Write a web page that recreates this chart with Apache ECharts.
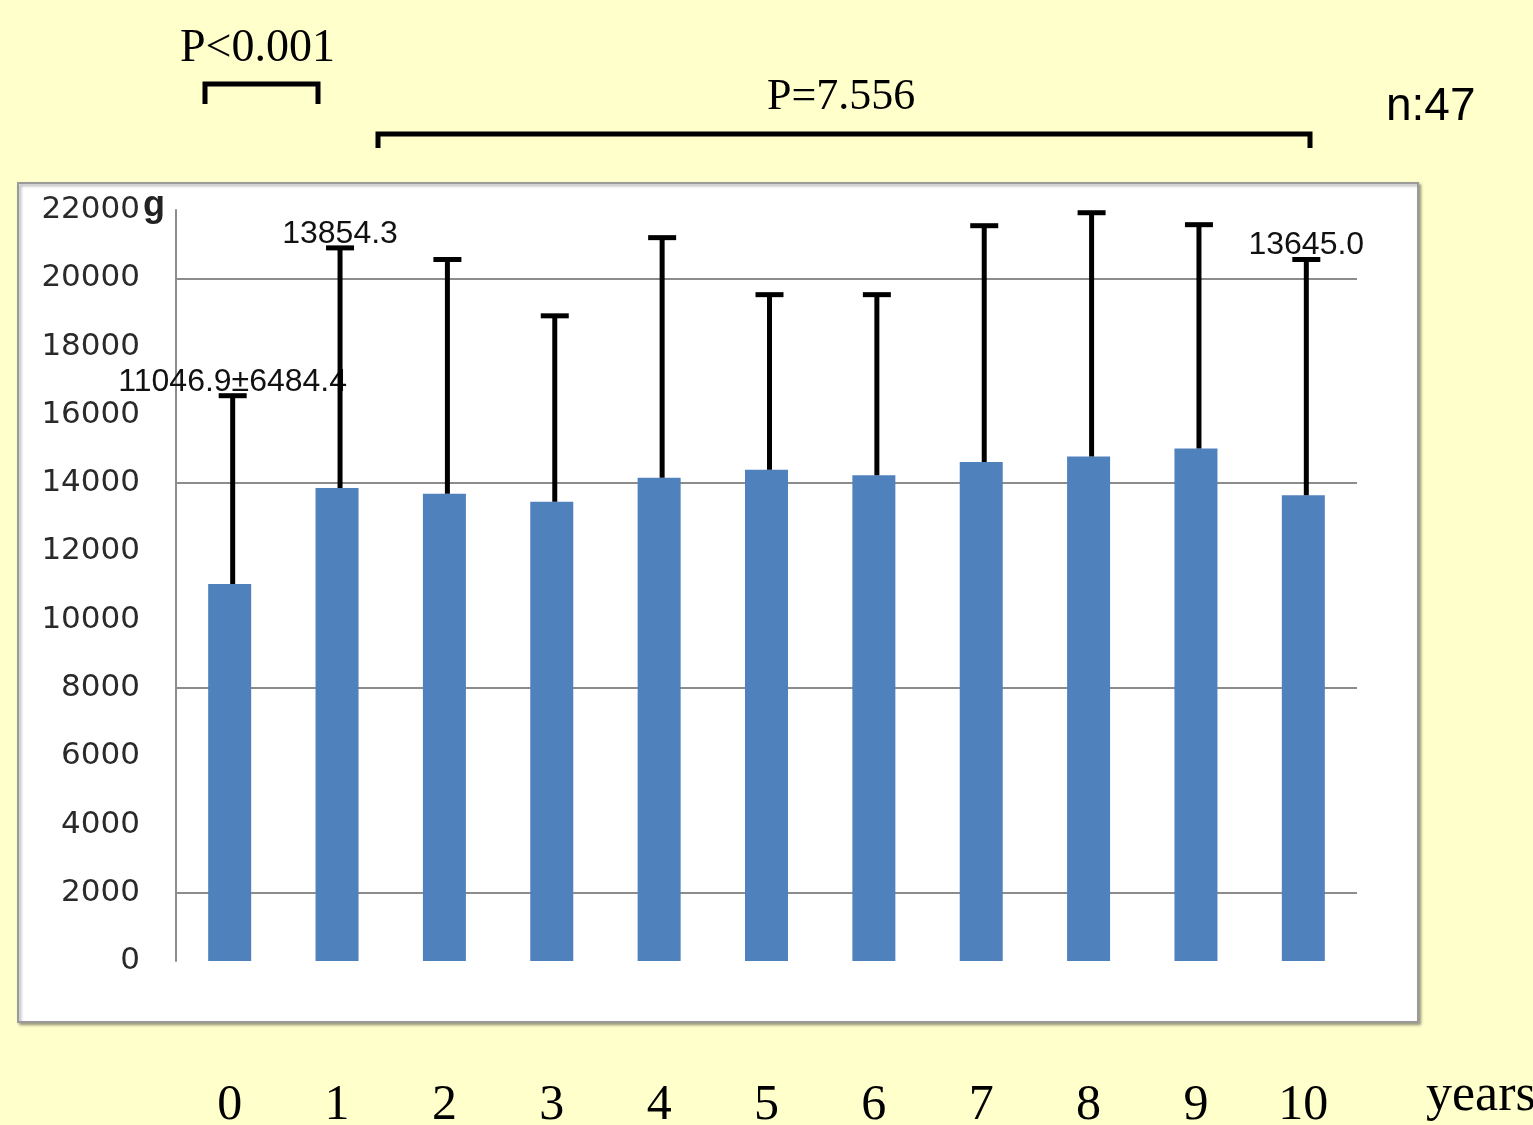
<!DOCTYPE html>
<html>
<head>
<meta charset="utf-8">
<script src="https://cdn.jsdelivr.net/npm/echarts@6/dist/echarts.min.js"></script>
<style>
html,body{margin:0;padding:0;background:#FFFFCC;}
#main{width:1533px;height:1125px;}
</style>
</head>
<body>
<div id="main"></div>
<script>
// ---- data ----
var categories = ['0','1','2','3','4','5','6','7','8','9','10'];
var means = [11046.9, 13854.3, 13690, 13450, 14160, 14390, 14230, 14620, 14780, 15010, 13645.0];
var errUpper = [16560, 20890, 20550, 18900, 21190, 19520, 19520, 21540, 21920, 21570, 20550];
var errLabels = ['11046.9\u00b16484.4', '13854.3', '', '', '', '', '', '', '', '', '13645.0'];
var yTicks = {min: 0, max: 22000, interval: 2000};
var unitLabel = 'g';
var xUnitLabel = 'years';
var pLabel1 = 'P<0.001';
var pLabel2 = 'P=7.556';
var nLabel = 'n:47';

var chart = echarts.init(document.getElementById('main'), null, {renderer: 'canvas'});

var errData = categories.map(function (c, i) { return [i, means[i], errUpper[i]]; });

var option = {
  backgroundColor: '#FFFFCC',
  animation: false,
  grid: {left: 176, right: 176, top: 210, bottom: 164, containLabel: false, outerBoundsMode: 'none'},
  xAxis: {
    type: 'category',
    data: categories,
    axisLine: {show: false},
    axisTick: {show: false},
    axisLabel: {
      margin: 125,
      fontFamily: 'Liberation Serif',
      fontSize: 50,
      lineHeight: 40,
      color: '#000'
    }
  },
  yAxis: {
    type: 'value',
    min: yTicks.min,
    max: yTicks.max,
    interval: yTicks.interval,
    axisLine: {show: true, lineStyle: {color: '#8c8c8c', width: 2}},
    axisTick: {show: false},
    axisLabel: {
      margin: 36,
      fontFamily: 'DejaVu Sans',
      fontSize: 31,
      color: '#2a2a2a',
      formatter: function (v) { return String(v); }
    },
    splitLine: {
      show: true,
      lineStyle: {color: ['transparent', '#8c8c8c', 'transparent'], width: 2}
    }
  },
  graphic: [
    {
      type: 'rect', z: -10,
      shape: {x: 18, y: 183, width: 1400, height: 839},
      style: {fill: '#ffffff', stroke: '#9a9a9a', lineWidth: 2,
        shadowBlur: 3, shadowOffsetX: 2, shadowOffsetY: 2, shadowColor: 'rgba(0,0,0,0.35)'}
    },
    {
      type: 'text', left: 143, top: 188, z: 10,
      style: {text: unitLabel, font: 'bold 36px "Liberation Sans"', fill: '#222'}
    },
    {
      type: 'text', left: 1426, top: 1070, z: 10,
      style: {text: xUnitLabel, font: '52px "Liberation Serif"', fill: '#000'}
    },
    {
      type: 'text', left: 180, top: 26, z: 10,
      style: {text: pLabel1, font: '46px "Liberation Serif"', fill: '#000'}
    },
    {
      type: 'polyline', z: 10,
      shape: {points: [[205, 104], [205, 84], [318, 84], [318, 104]]},
      style: {stroke: '#000', lineWidth: 5, fill: null}
    },
    {
      type: 'text', left: 767, top: 75, z: 10,
      style: {text: pLabel2, font: '44px "Liberation Serif"', fill: '#000'}
    },
    {
      type: 'polyline', z: 10,
      shape: {points: [[378, 148], [378, 134], [1310, 134], [1310, 148]]},
      style: {stroke: '#000', lineWidth: 5, fill: null}
    },
    {
      type: 'text', left: 1386, top: 84, z: 10,
      style: {text: nLabel, font: '46px "Liberation Sans"', fill: '#000'}
    }
  ],
  series: [
    {
      type: 'bar',
      data: means,
      barWidth: 43,
      itemStyle: {color: '#4F81BD'},
      emphasis: {disabled: true},
      z: 2
    },
    {
      type: 'custom',
      data: errData,
      z: 5,
      encode: {x: 0, y: [1, 2]},
      renderItem: function (params, api) {
        var i = api.value(0);
        var pLo = api.coord([i, api.value(1)]);
        var pHi = api.coord([i, api.value(2)]);
        var capW = 28;
        var x = pLo[0] + 3;
        var children = [
          {type: 'line', shape: {x1: x, y1: pLo[1], x2: x, y2: pHi[1]},
            style: {stroke: '#000', lineWidth: 5}},
          {type: 'line', shape: {x1: x - capW / 2, y1: pHi[1], x2: x + capW / 2, y2: pHi[1]},
            style: {stroke: '#000', lineWidth: 5}}
        ];
        var lbl = errLabels[params.dataIndex];
        if (lbl) {
          children.push({
            type: 'text', x: x, y: pHi[1] - 14,
            style: {text: lbl, font: '32px "Liberation Sans"', fill: '#111',
              align: 'center', verticalAlign: 'middle'}
          });
        }
        return {type: 'group', children: children};
      }
    }
  ]
};
chart.setOption(option);
</script>
</body>
</html>
